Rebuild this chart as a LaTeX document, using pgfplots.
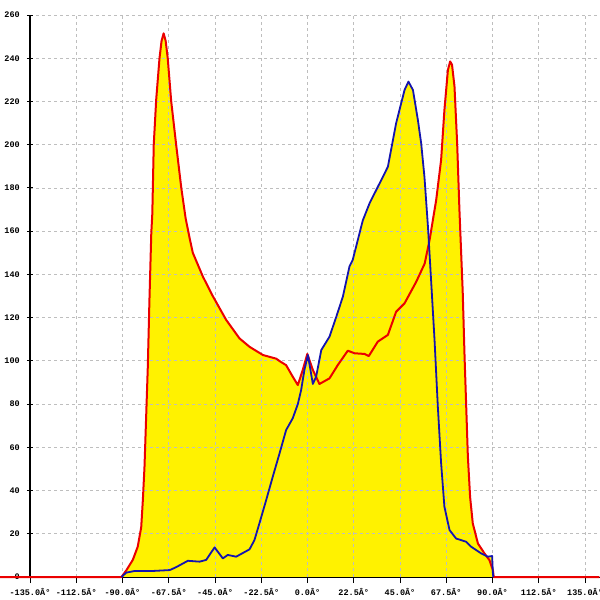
\documentclass[border=0pt]{standalone}
\usepackage{fontspec}
\usepackage{pgfplots}
\usepackage{pgfplotstable}
\pgfplotsset{compat=1.18}
\setmonofont{Liberation Mono}
\definecolor{cred}{RGB}{235,0,0}
\definecolor{cblue}{RGB}{20,20,175}
\definecolor{cgrid}{RGB}{190,190,190}

\pgfplotstableread{
x y
-150 0
-90.5 0
-88.2 3
-85 7.9
-82.6 14
-80.9 23
-80.1 35.6
-79.3 51
-78.5 74
-77.7 97
-76.9 128
-76 159
-75.5 168
-74.8 200
-73.6 221
-72 240
-71 248
-70 251.5
-69 248
-68 240
-66.3 220
-63.9 200
-61.4 180
-59.3 166
-57.4 157
-55.8 150
-50.9 139
-46.1 130
-39.6 119
-33.1 110.4
-28.2 106.5
-21.7 102.7
-15.2 101
-13.6 99.9
-10.4 98
-7.2 92.7
-4.7 88.8
-2.3 95.8
-0.1 103.2
2.6 95.8
5.8 89.3
10.7 91.9
14.7 98
19.6 104.7
22.9 103.5
27.7 103.2
29.8 102.2
34.2 108.9
39.1 112
43.1 122.7
47.2 126.6
52.9 136.6
57 145
59.4 156
62.6 174.4
65 193
66.6 216
68.3 234.6
69.4 238.5
70.3 237
71.5 227
72.8 200.6
73.9 170
75.5 132
76.4 102
77.2 79
78 56
79.1 37
80.4 24.8
82.9 15.5
86.1 10.9
88.5 7.8
90.2 3.1
90.6 0
142 0
}\redtab

\pgfplotstableread{
x y
-90.5 0
-88.2 2
-84 2.8
-75 2.8
-67 3.2
-64 4.5
-58.2 7.5
-52.5 7.1
-49.3 7.9
-45.2 13.7
-41.2 8.6
-38.8 10.2
-34.7 9.4
-28.2 12.8
-25.8 17.1
-23.4 24.8
-20.1 35.6
-16.9 46.4
-13.6 57.2
-10.4 68
-7.2 73.4
-4.7 80
-3.1 86.5
-1.5 95.8
0.2 102.7
2.6 89.3
4.2 92.7
6.7 105
10.7 111.2
14 120.4
17.2 129.7
20.4 143.6
22 146.7
26.9 165
30.2 172.9
35 182
39.1 189.8
43.1 209.9
47.2 225.3
49.1 229.2
51.3 225.3
53.7 211.4
55.3 200.6
56.9 185
58.6 162
60.2 136
61.8 109.6
63.4 78.8
65 52.6
66.6 32.5
69.1 21.7
72.3 17.8
77.2 16.3
79.6 14
84.5 10.9
87.7 9.4
89.8 9.7
90.2 1.6
90.4 0
}\bluetab

\begin{document}
\begin{tikzpicture}
\begin{axis}[
  set layers,
  x=2.0556pt, y=2.1615pt,
  xmin=-135, xmax=142.06, ymin=0, ymax=260,
  axis lines=left,
  axis line style={-, black, line width=1pt},
  clip=false,
  xtick={-135,-112.5,-90,-67.5,-45,-22.5,0,22.5,45,67.5,90,112.5,135},
  xticklabels={-135.0Â°,-112.5Â°,-90.0Â°,-67.5Â°,-45.0Â°,-22.5Â°,0.0Â°,22.5Â°,45.0Â°,67.5Â°,90.0Â°,112.5Â°,135.0Â°},
  ytick={0,20,40,60,80,100,120,140,160,180,200,220,240,260},
  /pgf/number format/assume math mode=true,
  grid=major,
  grid style={cgrid, dash pattern=on 3pt off 3pt, line width=0.7pt},
  xtick align=outside, ytick align=center,
  major tick length=6pt,
  tick style={black, line width=0.9pt},
  ticklabel style={font=\ttfamily\bfseries\fontsize{8.5}{9}\selectfont},
  yticklabel style={anchor=east, inner sep=0pt, xshift=-7pt},
  xticklabel style={anchor=north, inner sep=0pt, yshift=-5pt},
]
\addplot[fill=yellow, draw=none, on layer=axis background] table[x=x,y=y] {\redtab} \closedcycle;
\addplot[fill=yellow, draw=none, on layer=axis background] table[x=x,y=y] {\bluetab} \closedcycle;
\addplot[cred, line width=2pt, line join=round] table[x=x,y=y] {\redtab};
\addplot[cblue, line width=1.8pt, line join=round] table[x=x,y=y] {\bluetab};
\end{axis}
\pgfresetboundingbox
\useasboundingbox ([shift={(-30pt,-23pt)}]current axis.south west) rectangle ([shift={(570pt,577pt)}]current axis.south west);
\end{tikzpicture}
\end{document}
